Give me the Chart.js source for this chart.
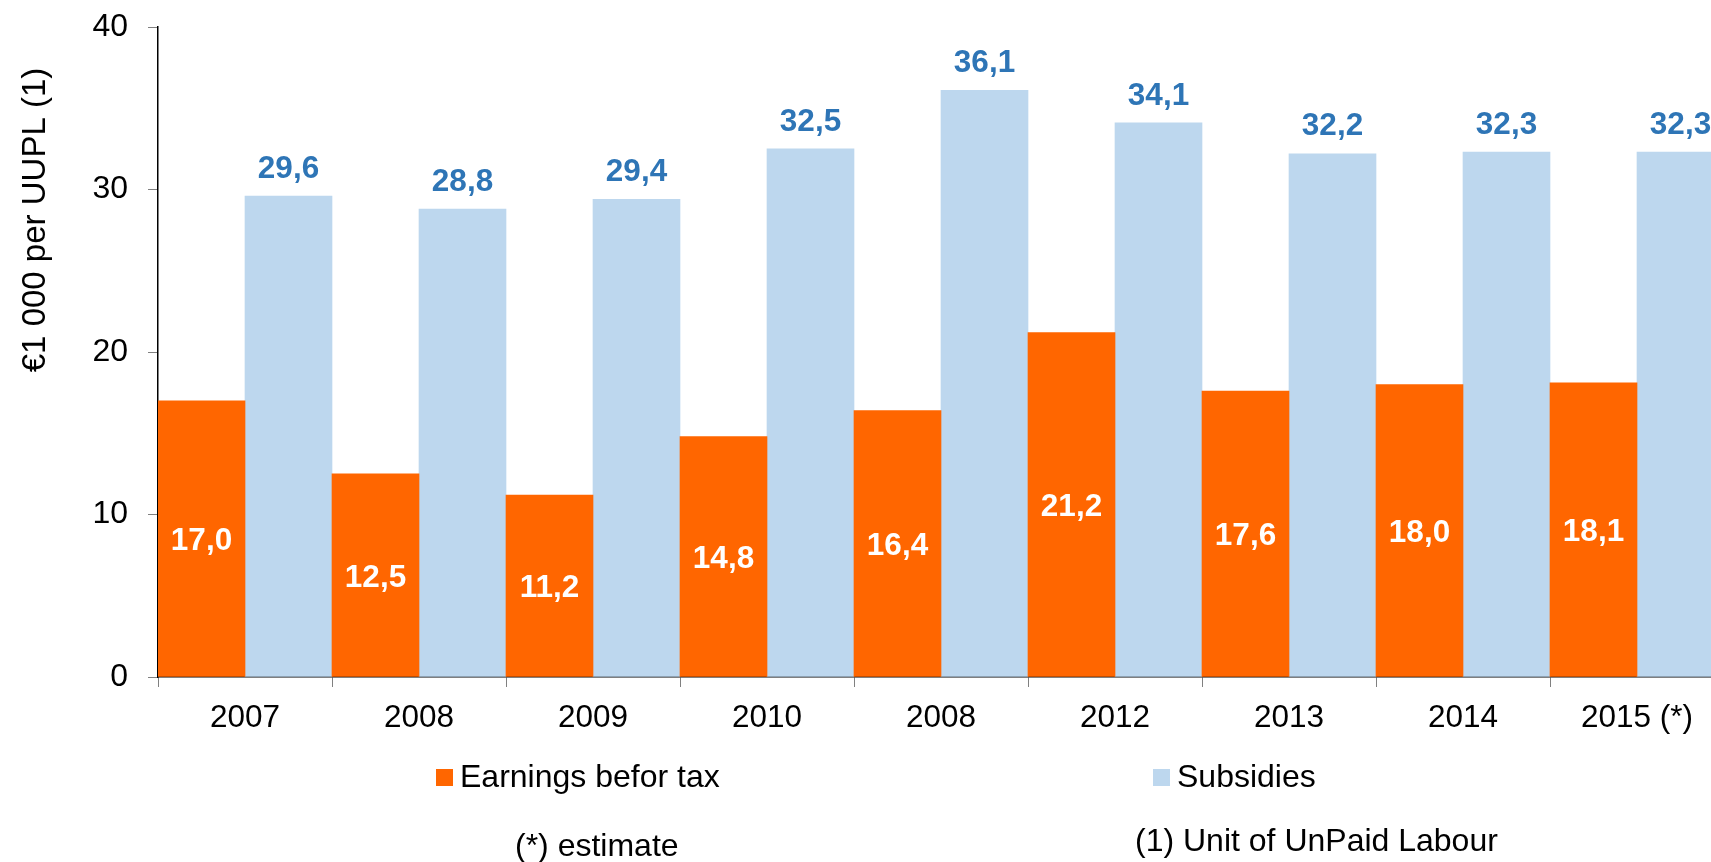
<!DOCTYPE html>
<html>
<head>
<meta charset="utf-8">
<script src="https://cdn.jsdelivr.net/npm/chart.js@4/dist/chart.umd.min.js"></script>
<style>
  html, body { margin: 0; padding: 0; overflow: hidden; background: #ffffff; width: 1711px; height: 862px; }
  #wrap { position: absolute; left: 0; top: 0; width: 1740px; height: 862px; }
</style>
</head>
<body>
<div id="wrap"><canvas id="c" width="1740" height="862"></canvas></div>
<script>
const categories = ['2007', '2008', '2009', '2010', '2008', '2012', '2013', '2014', '2015 (*)'];
const earnings = [17.0, 12.5, 11.2, 14.8, 16.4, 21.2, 17.6, 18.0, 18.1];
const subsidies = [29.6, 28.8, 29.4, 32.5, 36.1, 34.1, 32.2, 32.3, 32.3];
const yTicks = [0, 10, 20, 30, 40];
const seriesNames = ['Earnings befor tax', 'Subsidies'];
const yTitle = '€1 000 per UUPL (1)';
const footnotes = ['(*) estimate', '(1) Unit of UnPaid Labour'];

const FONT = '"Liberation Sans", Arial, sans-serif';
const ORANGE = '#FF6600';
const LIGHTBLUE = '#BDD7EE';
const LABELBLUE = '#2E75B6';

function fmt(v) { return v.toFixed(1).replace('.', ','); }

const labelsPlugin = {
  id: 'valueLabels',
  afterDatasetsDraw(chart) {
    const ctx = chart.ctx;
    ctx.save();
    ctx.font = 'bold 31.5px ' + FONT;
    ctx.textAlign = 'center';
    ctx.textBaseline = 'middle';
    chart.data.datasets.forEach((ds, di) => {
      const meta = chart.getDatasetMeta(di);
      meta.data.forEach((bar, i) => {
        const v = ds.data[i];
        if (di === 0) {
          ctx.fillStyle = '#ffffff';
          ctx.fillText(fmt(v), bar.x, (bar.y + bar.base) / 2 + 3);
        } else {
          ctx.fillStyle = LABELBLUE;
          ctx.fillText(fmt(v), bar.x, bar.y - 27);
        }
      });
    });
    ctx.restore();
  }
};

const extrasPlugin = {
  id: 'extras',
  afterDraw(chart) {
    const ctx = chart.ctx;
    ctx.save();
    // y axis title
    ctx.save();
    ctx.translate(36, 220);
    ctx.rotate(-Math.PI / 2);
    ctx.font = '33px ' + FONT;
    ctx.fillStyle = '#000000';
    ctx.textAlign = 'center';
    ctx.textBaseline = 'middle';
    ctx.fillText(yTitle, 0, 0);
    ctx.restore();
    // legend
    const legendPos = [{ x: 436, y: 778 }, { x: 1153, y: 778 }];
    ctx.font = '32px ' + FONT;
    ctx.textBaseline = 'middle';
    ctx.textAlign = 'left';
    chart.data.datasets.forEach((ds, di) => {
      const p = legendPos[di];
      ctx.fillStyle = ds.backgroundColor;
      ctx.fillRect(p.x, p.y - 9, 17, 17);
      ctx.fillStyle = '#000000';
      ctx.fillText(ds.label, p.x + 24, p.y);
    });
    // footnotes
    const fnPos = [{ x: 515, y: 847 }, { x: 1135, y: 842 }];
    footnotes.forEach((t, i) => {
      ctx.fillText(t, fnPos[i].x, fnPos[i].y);
    });
    ctx.restore();
  }
};

new Chart(document.getElementById('c'), {
  type: 'bar',
  data: {
    labels: categories,
    datasets: [
      { label: seriesNames[0], data: earnings, backgroundColor: ORANGE, borderWidth: 0, categoryPercentage: 1.0, barPercentage: 1.0 },
      { label: seriesNames[1], data: subsidies, backgroundColor: LIGHTBLUE, borderWidth: 0, categoryPercentage: 1.0, barPercentage: 1.0 }
    ]
  },
  options: {
    responsive: false,
    animation: false,
    devicePixelRatio: 1,
    layout: { padding: { left: 0, right: 16, top: 27, bottom: 0 } },
    plugins: {
      legend: { display: false },
      tooltip: { enabled: false },
      title: { display: false }
    },
    scales: {
      x: {
        offset: true,
        grid: { display: true, drawOnChartArea: false, drawTicks: true, tickLength: 10, color: '#808080', offset: true },
        border: { display: true, color: '#000000', width: 1.5 },
        ticks: { color: '#000000', font: { family: FONT, size: 31.5 }, padding: 12, maxRotation: 0, autoSkip: false },
        afterFit(scale) { scale.height = 185; scale.paddingLeft = 0; scale.paddingRight = 0; }
      },
      y: {
        min: 0, max: 40,
        afterBuildTicks(scale) { scale.ticks = yTicks.map(v => ({ value: v })); },
        grid: { display: true, drawOnChartArea: false, drawTicks: true, tickLength: 10, color: '#808080' },
        border: { display: true, color: '#000000', width: 1.5 },
        ticks: { color: '#000000', font: { family: FONT, size: 32 }, padding: 20 },
        afterFit(scale) { scale.width = 158; scale.paddingTop = 0; scale.paddingBottom = 0; }
      }
    }
  },
  plugins: [labelsPlugin, extrasPlugin]
});
</script>
</body>
</html>
